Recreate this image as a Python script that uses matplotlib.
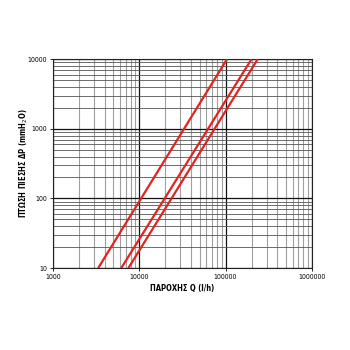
import matplotlib.pyplot as plt
from matplotlib.ticker import LogLocator, FixedLocator, NullFormatter

# flow Q (l/h) at the ends of each curve, and pressure drop (mmH2O)
curve_q = [
    [3350, 104000],
    [6200, 200000],
    [7500, 236000],
]
curve_dp = [10, 10000]

x_ticks = [1000, 10000, 100000, 1000000]
y_ticks = [10, 100, 1000, 10000]

fig = plt.figure(figsize=(3.5, 3.5), dpi=100)
ax = fig.add_axes([0.151, 0.234, 0.740, 0.597])
ax.set_xscale("log")
ax.set_yscale("log")
ax.set_xlim(1000, 1000000)
ax.set_ylim(10, 10000)

for q in curve_q:
    ax.plot(q, curve_dp, color="#e3231e", lw=1.6, solid_capstyle="butt", zorder=3)

ax.xaxis.set_major_locator(FixedLocator(x_ticks))
ax.yaxis.set_major_locator(FixedLocator(y_ticks))
ax.xaxis.set_minor_locator(LogLocator(base=10, subs=range(2, 10)))
ax.yaxis.set_minor_locator(LogLocator(base=10, subs=range(2, 10)))
ax.xaxis.set_minor_formatter(NullFormatter())
ax.yaxis.set_minor_formatter(NullFormatter())
ax.set_xticklabels([str(v) for v in x_ticks])
ax.set_yticklabels([str(v) for v in y_ticks])

ax.grid(which="major", axis="both", color="#111111", lw=0.9)
ax.grid(which="minor", axis="y", color="#555555", lw=0.6)
ax.grid(which="minor", axis="x", color="#a0a0a0", lw=0.8)

for s in ax.spines.values():
    s.set_color("#222222")
    s.set_linewidth(0.8)

ax.tick_params(which="major", length=2, width=0.6, labelsize=5, pad=2)
ax.tick_params(which="minor", length=0)
for lab in ax.get_xticklabels() + ax.get_yticklabels():
    lab.set_fontstretch("condensed")

ax.set_xlabel("ΠΑΡΟΧΗΣ Q (l/h)", fontsize=5.5, fontweight="bold",
              fontstretch="condensed", labelpad=3)
ax.set_ylabel("ΠΤΩΣΗ ΠΙΕΣΗΣ ΔΡ (mmH$_2$O)", fontsize=5.5, fontweight="bold",
              fontstretch="condensed")
ax.yaxis.set_label_coords(-0.09, 0.5)

fig.savefig("out.png", dpi=100)
